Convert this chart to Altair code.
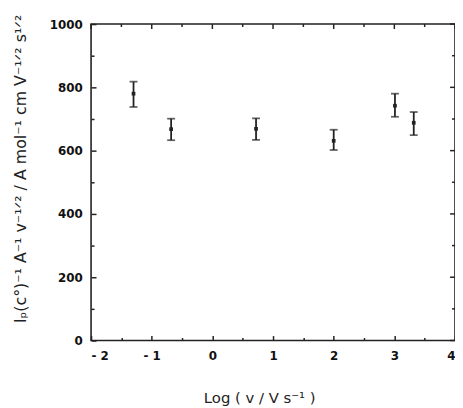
import altair as alt
import pandas as pd

log_v = [-1.30, -0.68, 0.72, 2.00, 3.01, 3.32]
value = [780, 668, 669, 631, 742, 688]
err_hi = [818, 701, 702, 666, 780, 722]
err_lo = [738, 633, 634, 602, 707, 649]

x_major = [-2, -1, 0, 1, 2, 3, 4]
x_minor = [-1.5, -0.5, 0.5, 1.5, 2.5, 3.5]
y_major = [0, 200, 400, 600, 800, 1000]
y_minor = [100, 300, 500, 700, 900]

df = pd.DataFrame({"x": log_v, "y": value, "hi": err_hi, "lo": err_lo})
xmaj_df = pd.DataFrame({"v": x_major})
xmin_df = pd.DataFrame({"v": x_minor})
ymaj_df = pd.DataFrame({"v": y_major})
ymin_df = pd.DataFrame({"v": y_minor})

W, H = 368, 320
FONT = "DejaVu Sans"
INK = "#222"

xs = alt.Scale(domain=[-2, 4], nice=False, zero=False)
ys = alt.Scale(domain=[0, 1000], nice=False, zero=False)

x_title = "Log ( v / V s\u207b\u00b9 )"
y_title = "I\u209a(c\u00b0)\u207b\u00b9 A\u207b\u00b9 v\u207b\u00b9\u141f\u00b2 / A mol\u207b\u00b9 cm V\u207b\u00b9\u141f\u00b2 s\u00b9\u141f\u00b2"


def tick_axis(orient, offset, values, size):
    return alt.Axis(orient=orient, offset=offset, values=values, labels=False,
                    domain=False, grid=False, tickSize=size, tickWidth=1.5,
                    tickColor=INK, title=None)


base = alt.Chart(df)

bars = base.mark_rule(color=INK, strokeWidth=1.8).encode(
    x=alt.X("x:Q", scale=xs, axis=alt.Axis(
        orient="bottom", values=x_major, ticks=False, domain=False, grid=False,
        labelFont=FONT, labelFontSize=12, labelFontWeight="bold", labelColor="#111",
        labelPadding=10, labelExpr="datum.value < 0 ? '- ' + abs(datum.value) : datum.label",
        title=x_title, titleFont=FONT, titleFontSize=15, titleFontWeight="normal",
        titleColor=INK, titleX=170, titleY=58, titleBaseline="middle")),
    y=alt.Y("lo:Q", scale=ys, axis=alt.Axis(
        orient="left", values=y_major, ticks=False, domain=False, grid=False, format="d",
        labelFont=FONT, labelFontSize=12, labelFontWeight="bold", labelColor="#111",
        labelPadding=9,
        title=y_title, titleFont=FONT, titleFontSize=16, titleFontWeight="normal",
        titleColor=INK, titleAngle=270, titleX=-71, titleY=146, titleBaseline="middle")),
    y2="hi:Q",
)

caps_hi = base.mark_tick(color=INK, orient="horizontal", size=8, thickness=1.8).encode(
    x=alt.X("x:Q", scale=xs, axis=tick_axis("top", -H, x_major, 5)),
    y=alt.Y("hi:Q", scale=ys, axis=tick_axis("right", -W, y_major, 5)),
)

caps_lo = base.mark_tick(color=INK, orient="horizontal", size=8, thickness=1.8).encode(
    x=alt.X("x:Q", scale=xs, axis=tick_axis("top", -H, x_minor, 3)),
    y=alt.Y("lo:Q", scale=ys, axis=tick_axis("right", -W, y_minor, 3)),
)

points = base.mark_square(color=INK, size=14, opacity=1).encode(
    x=alt.X("x:Q", scale=xs, axis=None),
    y=alt.Y("y:Q", scale=ys, axis=None),
)

# inward ticks along the top edge
top_major = alt.Chart(xmaj_df).mark_rule(color=INK, strokeWidth=1.5).encode(
    x=alt.X("v:Q", scale=xs, axis=None), y=alt.value(0), y2=alt.value(5))
top_minor = alt.Chart(xmin_df).mark_rule(color=INK, strokeWidth=1.5).encode(
    x=alt.X("v:Q", scale=xs, axis=None), y=alt.value(0), y2=alt.value(3))
# inward ticks along the right edge
right_major = alt.Chart(ymaj_df).mark_rule(color=INK, strokeWidth=1.5).encode(
    y=alt.Y("v:Q", scale=ys, axis=None), x=alt.value(W), x2=alt.value(W - 5))
right_minor = alt.Chart(ymin_df).mark_rule(color=INK, strokeWidth=1.5).encode(
    y=alt.Y("v:Q", scale=ys, axis=None), x=alt.value(W), x2=alt.value(W - 3))

chart = alt.layer(bars, caps_hi, caps_lo, points,
                  top_major, top_minor, right_major, right_minor).resolve_axis(
    x="independent", y="independent"
).properties(
    width=W, height=H,
    autosize=alt.AutoSizeParams(type="none"),
    padding={"left": 84, "top": 14, "right": 0, "bottom": 66},
    background="white",
).configure_view(stroke=INK, strokeWidth=1.6)

chart.save("out.html", embed_options={"renderer": "svg", "actions": False})
